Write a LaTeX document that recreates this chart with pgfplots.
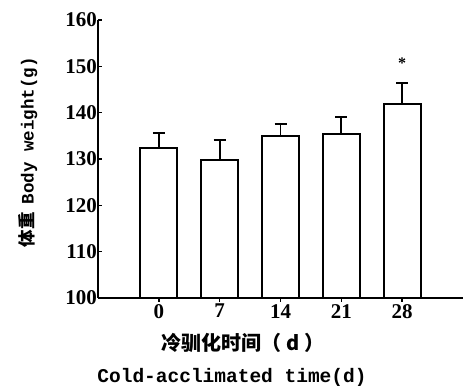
\documentclass[border=0pt]{standalone}
\usepackage{pgfplots}
\pgfplotsset{compat=1.18}
\usepackage{fontspec}
\setmainfont{Liberation Serif}
\setmonofont{Liberation Mono}
\newfontfamily\cjk{Noto Sans CJK SC}
\begin{document}
\begin{tikzpicture}[x=1pt,y=1pt]
\useasboundingbox (0,0) rectangle (465,385);
\begin{axis}[
  at={(98pt,87pt)}, anchor=south west,
  scale only axis, width=365pt, height=278pt,
  xmin=-1, xmax=5, ymin=100, ymax=160,
  axis lines*=left,
  axis line style={-, line width=1.8pt},
  ytick={100,110,...,160},
  xtick=data, xticklabels={0,7,14,21,28},
  tick align=inside, major tick length=4pt,
  tick style={line width=1.4pt, black},
  /pgf/number format/assume math mode=true,
  ticklabel style={font=\fontsize{21}{21}\selectfont\bfseries},
  yticklabel style={inner sep=1pt},
  xticklabel style={inner sep=2pt},
  ybar, bar width=37pt,
]
\addplot[draw=black, fill=white, line width=1.8pt,
  error bars/.cd, y dir=plus, y explicit,
  error mark=-, error mark options={rotate=90, line width=1.8pt, mark size=6pt, black},
  error bar style={line width=1.8pt, black}]
  coordinates {
  (0,132.4) +- (0,3.2)
  (1,129.8) +- (0,4.3)
  (2,135.0) +- (0,2.6)
  (3,135.4) +- (0,3.7)
  (4,141.9) +- (0,4.5)
  };
\node at (axis cs:4,150.6) {\fontsize{16}{16}\selectfont\bfseries *};
\end{axis}
\node at (243,42) {\fontsize{20}{20}\selectfont\cjk\bfseries 冷驯化时间（ d ）};
\node at (232,8) {\fontsize{19.5}{19.5}\selectfont\ttfamily\bfseries Cold-acclimated time(d)};
\node[rotate=90] at (28,233) {\fontsize{17.5}{17.5}\selectfont{\cjk\bfseries 体重}\hspace{8pt}\ttfamily\bfseries Body weight(g)};
\end{tikzpicture}
\end{document}
